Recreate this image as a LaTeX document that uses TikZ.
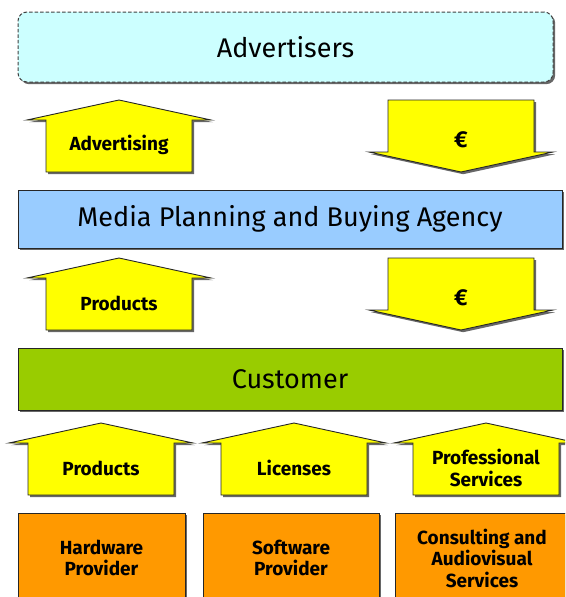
\documentclass[tikz,border=0pt]{standalone}
\usepackage{fontspec}
\setmainfont{Fira Sans}
\usetikzlibrary{shadows}
\definecolor{advfill}{HTML}{CCFFFF}
\definecolor{agencyfill}{HTML}{99CCFF}
\definecolor{custfill}{HTML}{99CC00}
\definecolor{provfill}{HTML}{FF9900}
\definecolor{flowfill}{HTML}{FFFF00}
\begin{document}
\begin{tikzpicture}[x=1pt,y=-1pt,
  shade/.style={drop shadow={shadow xshift=2.2pt,shadow yshift=-2.2pt,fill=black!70,opacity=0.85}},
  box/.style={draw=black!85, line width=0.9pt, shade, inner sep=0pt},
  bigtext/.style={font=\fontsize{27}{32}\selectfont},
  smalltext/.style={font=\bfseries\fontsize{19}{21.5}\selectfont, align=center, inner sep=0pt},
  money/.style={font=\bfseries\fontsize{23}{26}\selectfont, inner sep=0pt},
  flow/.style={draw=black!85, line width=0.9pt, fill=flowfill, line join=miter, shade},
  % block arrow pointing up; origin at the bottom centre of the shaft
  uparr/.pic={
    \draw[flow] (-73,0) -- (-73,-52) -- (-92,-52) -- (0,-72) -- (92,-52) -- (73,-52) -- (73,0) -- cycle;
    \node[smalltext] (-label) at (0,-27) {#1};
  },
  % block arrow pointing down; origin at the top centre of the shaft
  downarr/.pic={
    \draw[flow] (-73,0) -- (-73,52) -- (-92,52) -- (0,72) -- (92,52) -- (73,52) -- (73,0) -- cycle;
    \node[money] (-label) at (0,40) {#1};
  }
]
\useasboundingbox (0,0) rectangle (565,597);
\clip (0,0) rectangle (565,597);

% actors
\node[box, fill=advfill, dashed, dash pattern=on 3.5pt off 2pt, draw=black!75, line width=1pt,
      rounded corners=9pt, minimum width=535pt, minimum height=70pt, bigtext]
  (advertisers) at (285.5,47) {Advertisers};
\node[box, fill=agencyfill, minimum width=544pt, minimum height=58pt, bigtext]
  (agency) at (290,219) {Media Planning and Buying Agency};
\node[box, fill=custfill, minimum width=544pt, minimum height=62pt, bigtext]
  (customer) at (290,379) {Customer};

% providers
\node[box, fill=provfill, minimum width=167pt, minimum height=90pt, smalltext]
  (hardware) at (101.5,558) {Hardware\\Provider};
\node[box, fill=provfill, minimum width=176pt, minimum height=90pt, smalltext]
  (software) at (291,558) {Software\\Provider};
\node[box, fill=provfill, minimum width=174pt, minimum height=90pt, smalltext]
  (consulting) at (482,558) {Consulting and\\Audiovisual\\Services};

% flows between the actors
\pic (advflow) at (119,172) {uparr={Advertising}};
\pic (pay1) at (461,100) {downarr={€}};
\pic (prodflow) at (119,330) {uparr={Products}};
\pic (pay2) at (461,258) {downarr={€}};

% flows from the providers
\pic (hwflow) at (101,495) {uparr={Products}};
\pic (swflow) at (294,495) {uparr={Licenses}};
\pic (svcflow) at (486,495) {uparr={Professional\\Services}};
\end{tikzpicture}
\end{document}
